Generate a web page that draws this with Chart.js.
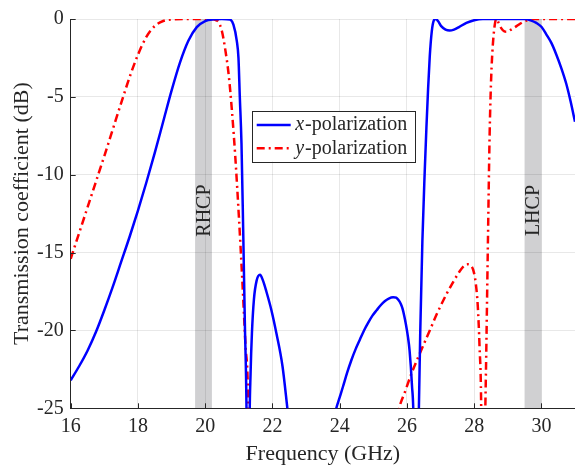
<!DOCTYPE html>
<html>
<head>
<meta charset="utf-8">
<script src="https://cdn.jsdelivr.net/npm/chart.js@4.4.1/dist/chart.umd.min.js"></script>
<style>
  html, body { margin: 0; padding: 0; background: #fff; }
  #wrap { width: 575px; height: 466px; position: relative; }
</style>
</head>
<body>
<div id="wrap"><canvas id="c"></canvas></div>
<script>
// Transmission coefficient vs frequency, x / y polarization.

const seriesNames = ['x-polarization', 'y-polarization'];

// x-polarization (blue, solid); values below -25 dB run off the axis
const xFreq = [16.0, 16.25, 16.5, 16.75, 17.0, 17.25, 17.5, 17.75, 18.0, 18.25, 18.5, 18.75, 19.0, 19.25, 19.5, 19.75,
  20.0, 20.25, 20.5, 20.74, 20.84, 20.94, 20.99, 21.03, 21.08, 21.13, 21.18, 21.23, 21.28, 21.32, 21.35, 21.39,
  21.45, 21.53, 21.63, 21.72, 21.82, 21.97, 22.12, 22.3, 22.45, 22.55, 23.0,
  23.8, 23.9, 24.0, 24.1, 24.225, 24.35, 24.475, 24.6, 24.725, 24.85, 24.975, 25.1, 25.22, 25.34, 25.46, 25.59,
  25.68, 25.75, 25.82, 25.87, 25.92, 25.97, 26.03, 26.08, 26.15, 26.2, 26.27,
  26.34, 26.4, 26.46, 26.53, 26.58, 26.63, 26.68, 26.74, 26.8, 26.86, 26.93, 27.02, 27.15, 27.27, 27.4, 27.55,
  27.77, 28.0, 28.26, 29.5, 29.7, 29.85, 30.0, 30.15, 30.3, 30.44, 30.6, 30.74, 30.87, 31.0];
const xDb = [-23.2, -22.3, -21.3, -20.1, -18.7, -17.2, -15.6, -14.0, -12.3, -10.5, -8.6, -6.6, -4.6, -2.8, -1.4, -0.52,
  -0.13, -0.02, 0, -0.04, -0.36, -1.4, -2.5, -5.0, -8.0, -13.5, -19.5, -25.2, -40, -26, -22.8, -20.2,
  -18.0, -16.8, -16.43, -16.8, -17.5, -18.7, -20.2, -22.3, -25.1, -27, null,
  -26, -25, -24.3, -23.6, -22.7, -21.9, -21.2, -20.6, -20.0, -19.5, -19.05, -18.7, -18.38, -18.12, -17.95, -17.87,
  -17.9, -18.05, -18.3, -18.6, -19.05, -19.6, -20.4, -21.3, -23.5, -26, -40,
  -27, -19.8, -14.3, -9.8, -7.0, -4.5, -2.4, -0.8, -0.1, 0, -0.15, -0.46, -0.68, -0.74, -0.68, -0.52,
  -0.25, -0.08, 0, 0, -0.1, -0.25, -0.5, -1.0, -1.55, -2.26, -3.2, -4.16, -5.3, -6.6];

// y-polarization (red, dash-dot)
const yFreq = [16.0, 16.25, 16.5, 16.75, 17.0, 17.25, 17.5, 17.75, 18.0, 18.25, 18.5, 18.75, 19.0, 19.5, 20.2,
  20.3, 20.4, 20.5, 20.6, 20.7, 20.8, 20.9, 21.0, 21.1, 21.2, 21.28, 21.33, 23.0,
  25.6, 25.77, 25.95, 26.13, 26.4, 26.68, 26.9, 27.17, 27.4, 27.57, 27.7, 27.79, 27.88, 27.97, 28.05, 28.11,
  28.16, 28.21, 28.26, 28.32, 28.36, 28.41, 28.46, 28.5, 28.54, 28.6, 28.66, 28.73, 28.81, 28.9, 28.96, 29.1,
  29.26, 29.45, 29.65, 29.8, 31.0];
const yDb = [-15.4, -13.75, -12.1, -10.45, -8.8, -7.1, -5.4, -3.75, -2.3, -1.15, -0.45, -0.13, -0.03, 0, 0,
  -0.06, -0.2, -0.8, -2.0, -3.6, -6.0, -9.0, -12.6, -16.6, -21.0, -25.2, -40, null,
  -27, -25, -23.9, -22.8, -21.4, -20.0, -18.9, -17.7, -16.8, -16.2, -15.85, -15.75, -15.8, -16.1, -17.0, -18.5,
  -21.0, -25, -40, -27, -21.5, -14.3, -7.5, -4.2, -2.2, -0.6, 0, -0.25, -0.6, -0.8, -0.82, -0.68,
  -0.46, -0.2, -0.04, 0, 0];

// shaded operating bands
const bandNames = ['RHCP', 'LHCP'];
const bandStart = [19.7, 29.5];
const bandEnd = [20.2, 30.0];

const yTicks = [-25, -20, -15, -10, -5, 0];
const xTicks = [16, 18, 20, 22, 24, 26, 28, 30];

const SERIF = "'Liberation Serif', 'Times New Roman', serif";
const INK = '#262626';
const BLUE = '#0000ff';
const RED = '#ff0000';

function pts(xs, ys) {
  return xs.map((x, i) => ({ x, y: ys[i] }));
}

const decor = {
  id: 'decor',
  beforeDraw(chart) {
    const { ctx, chartArea: a, scales: { x } } = chart;
    ctx.save();
    ctx.fillStyle = '#fff';
    ctx.fillRect(0, 0, chart.width, chart.height);
    ctx.fillStyle = '#d0d0d2';
    bandStart.forEach((s, i) => {
      const x0 = x.getPixelForValue(s);
      const x1 = x.getPixelForValue(bandEnd[i]);
      ctx.fillRect(x0, a.top, x1 - x0, a.bottom - a.top);
    });
    ctx.restore();
  },
  afterDraw(chart) {
    const { ctx, chartArea: a, scales: { x, y } } = chart;
    ctx.save();
    // band labels, rotated
    ctx.fillStyle = INK;
    ctx.font = `20px ${SERIF}`;
    ctx.textAlign = 'center';
    ctx.textBaseline = 'middle';
    bandNames.forEach((name, i) => {
      const cx = x.getPixelForValue((bandStart[i] + bandEnd[i]) / 2);
      const cy = y.getPixelForValue(-12.3);
      ctx.save();
      ctx.translate(cx, cy);
      ctx.rotate(-Math.PI / 2);
      ctx.fillText(name, 0, 1);
      ctx.restore();
    });

    // inward tick marks
    ctx.strokeStyle = INK;
    ctx.lineWidth = 1;
    ctx.beginPath();
    xTicks.forEach(t => {
      const px = Math.round(x.getPixelForValue(t)) + 0.5;
      ctx.moveTo(px, a.bottom);
      ctx.lineTo(px, a.bottom - 5);
    });
    yTicks.forEach(t => {
      const py = Math.round(y.getPixelForValue(t)) + 0.5;
      ctx.moveTo(a.left, py);
      ctx.lineTo(a.left + 5, py);
    });
    ctx.stroke();

    // legend box
    const lx = a.left + 181.5, ly = a.top + 92, lw = 162.5, lh = 50.5;
    ctx.fillStyle = '#fff';
    ctx.fillRect(lx, ly, lw, lh);
    ctx.strokeStyle = INK;
    ctx.strokeRect(Math.round(lx) + 0.5, Math.round(ly) + 0.5, Math.round(lw), Math.round(lh));
    const colors = [BLUE, RED];
    const dashes = [[], [8, 4, 2, 4]];
    seriesNames.forEach((name, i) => {
      const ry = ly + 14 + i * 23.3;
      ctx.strokeStyle = colors[i];
      ctx.lineWidth = 2.5;
      ctx.setLineDash(dashes[i]);
      ctx.beginPath();
      ctx.moveTo(lx + 4.5, ry);
      ctx.lineTo(lx + 38.5, ry);
      ctx.stroke();
      ctx.setLineDash([]);
      ctx.fillStyle = INK;
      ctx.textAlign = 'left';
      ctx.textBaseline = 'middle';
      ctx.font = `italic 20px ${SERIF}`;
      const v = name.charAt(0);
      ctx.fillText(v, lx + 43, ry);
      const w = ctx.measureText(v).width;
      ctx.font = `20px ${SERIF}`;
      ctx.fillText(name.slice(1), lx + 43 + w + 1, ry);
    });
    ctx.restore();
  }
};

new Chart(document.getElementById('c'), {
  type: 'line',
  data: {
    datasets: [
      {
        label: seriesNames[0],
        data: pts(xFreq, xDb),
        borderColor: BLUE,
        borderWidth: 2.5,
        pointRadius: 0,
        cubicInterpolationMode: 'monotone',
        spanGaps: false,
      },
      {
        label: seriesNames[1],
        data: pts(yFreq, yDb),
        borderColor: RED,
        borderWidth: 2.5,
        borderDash: [8, 4, 2, 4],
        pointRadius: 0,
        cubicInterpolationMode: 'monotone',
        spanGaps: false,
      },
    ],
  },
  options: {
    responsive: true,
    maintainAspectRatio: false,
    animation: false,
    layout: { padding: { top: 14.4, right: 0, left: 0, bottom: 0 } },
    plugins: {
      legend: { display: false },
      tooltip: { enabled: false },
    },
    scales: {
      x: {
        type: 'linear',
        min: 16,
        max: 31,
        afterBuildTicks: s => { s.ticks = xTicks.map(v => ({ value: v })); },
        afterFit: s => { s.height = 57.7; },
        ticks: {
          color: INK,
          font: { family: SERIF, size: 20 },
          padding: 6,
          maxRotation: 0,
          callback: v => String(v),
        },
        grid: { color: 'rgba(0,0,0,0.09)', drawTicks: false },
        border: { color: INK, width: 1 },
        title: {
          display: true,
          text: 'Frequency (GHz)',
          color: INK,
          font: { family: SERIF, size: 22, lineHeight: 1 },
          padding: { top: 0, bottom: 1 },
        },
      },
      y: {
        min: -25,
        max: 0,
        afterBuildTicks: s => { s.ticks = yTicks.map(v => ({ value: v })); },
        afterFit: s => { s.width = 70.7; },
        ticks: {
          color: INK,
          font: { family: SERIF, size: 20 },
          padding: 7,
          callback: v => String(v),
        },
        grid: { color: 'rgba(0,0,0,0.09)', drawTicks: false },
        border: { color: INK, width: 1 },
        title: {
          display: true,
          text: 'Transmission coefficient (dB)',
          color: INK,
          font: { family: SERIF, size: 22, lineHeight: 1 },
          padding: { top: 11, bottom: 0 },
        },
      },
    },
  },
  plugins: [decor],
});
</script>
</body>
</html>
